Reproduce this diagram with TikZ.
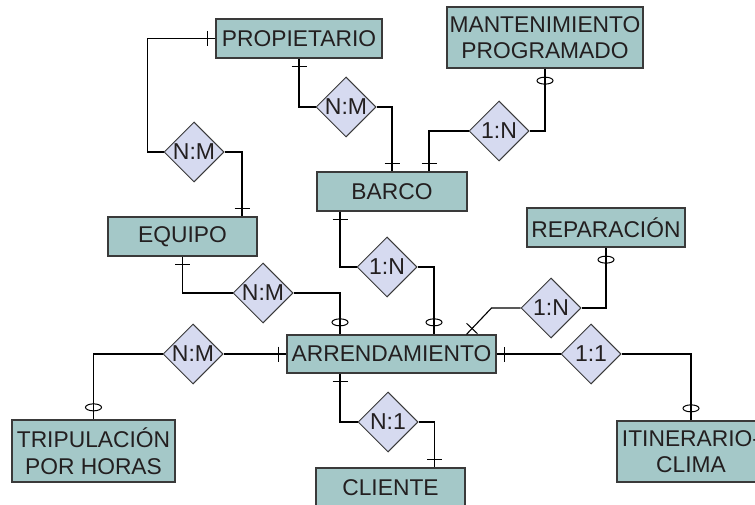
\documentclass[tikz,border=0pt]{standalone}
\usepackage{fontspec}
\setmainfont{Liberation Sans}
\usepackage{tikz}
\usetikzlibrary{shapes.geometric,decorations.markings}
\definecolor{erbox}{HTML}{A4C8C8}
\definecolor{errel}{HTML}{D6DAF0}
\definecolor{erline}{HTML}{3A3A3A}
\definecolor{ertext}{HTML}{231F20}
\tikzset{
  entity/.style={draw=erline,line width=1.3pt,fill=erbox,font=\fontsize{22.8}{26.5}\selectfont,text=ertext,inner sep=1pt,align=center},
  relation/.style={diamond,aspect=1,draw=erline,line width=1pt,fill=errel,font=\fontsize{23}{26}\selectfont,text=ertext,inner sep=0pt,minimum width=60pt,minimum height=60pt},
  link/.style={draw=black,line width=1.1pt},
  onefrom/.style={postaction={decorate},decoration={markings,mark=at position 8pt with {\draw[line width=1pt] (0,-7.5pt)--(0,7.5pt);}}},
  oneto/.style={postaction={decorate},decoration={markings,mark=at position -8pt with {\draw[line width=1pt] (0,-7.5pt)--(0,7.5pt);}}},
  zerofrom/.style={postaction={decorate},decoration={markings,mark=at position 12pt with {\draw[line width=1pt] (0,0) ellipse (3.5pt and 8pt);}}},
  zeroto/.style={postaction={decorate},decoration={markings,mark=at position -12pt with {\draw[line width=1pt] (0,0) ellipse (3.5pt and 8pt);}}}
}
\begin{document}
\begin{tikzpicture}[x=1pt,y=-1pt]
\clip (0,0) rectangle (755,505);
\node[entity,minimum width=166pt,minimum height=39pt] (prop) at (299,38.5) {PROPIETARIO};
\node[entity,minimum width=196pt,minimum height=61pt] (mant) at (545,37.5) {MANTENIMIENTO\\PROGRAMADO};
\node[entity,minimum width=150pt,minimum height=39pt] (barco) at (392,191.5) {BARCO};
\node[entity,minimum width=149pt,minimum height=39pt] (equipo) at (182.5,236.5) {EQUIPO};
\node[entity,minimum width=158pt,minimum height=39pt] (rep) at (606,227.5) {REPARACIÓN};
\node[entity,minimum width=209pt,minimum height=38pt] (arr) at (391.5,354) {ARRENDAMIENTO};
\node[entity,minimum width=163pt,minimum height=62pt] (trip) at (93.5,451) {TRIPULACIÓN\\POR HORAS};
\node[entity,minimum width=149pt,minimum height=40pt] (cliente) at (390.5,488) {CLIENTE};
\node[entity,minimum width=148pt,minimum height=61pt] (itin) at (691,451.5) {ITINERARIO-\\CLIMA};
\node[relation] (dpe) at (194,152) {N:M};
\node[relation] (dpb) at (346,107) {N:M};
\node[relation] (dbm) at (499,131) {1:N};
\node[relation] (dba) at (387,267) {1:N};
\node[relation] (dea) at (263,293) {N:M};
\node[relation] (dra) at (551,308) {1:N};
\node[relation] (dai) at (591,354) {1:1};
\node[relation] (dta) at (193,354) {N:M};
\node[relation] (dac) at (388,422) {N:1};
\draw[link,onefrom] (prop.west) -- ++(-68,0) |- (dpe.west);
\draw[link,oneto] (dpe.east) -| ([xshift=59.5pt]equipo.north);
\draw[link,onefrom] (prop.south) |- (dpb.west);
\draw[link,oneto] (dpb.east) -| (barco.north);
\draw[link,zerofrom] (mant.south) |- (dbm.east);
\draw[link,oneto] (dbm.west) -| ([xshift=37pt]barco.north);
\draw[link,onefrom] ([xshift=-52pt]barco.south) |- (dba.west);
\draw[link,zeroto] (dba.east) -| ([xshift=42.5pt]arr.north);
\draw[link,onefrom] (equipo.south) |- (dea.west);
\draw[link,zeroto] (dea.east) -| ([xshift=-51.5pt]arr.north);
\draw[link,zerofrom] (rep.south) |- (dra.east);
\draw[link,oneto] (dra.west) -- ++(-29,0) -- ([xshift=75pt]arr.north);
\draw[link,onefrom] (arr.east) -- (dai.west);
\draw[link,zeroto] (dai.east) -| (itin.north);
\draw[link,onefrom] (arr.west) -- (dta.east);
\draw[link,zeroto] (dta.west) -| (trip.north);
\draw[link,onefrom] ([xshift=-51.5pt]arr.south) |- (dac.west);
\draw[link,oneto] (dac.east) -| ([xshift=44pt]cliente.north);
\end{tikzpicture}
\end{document}
